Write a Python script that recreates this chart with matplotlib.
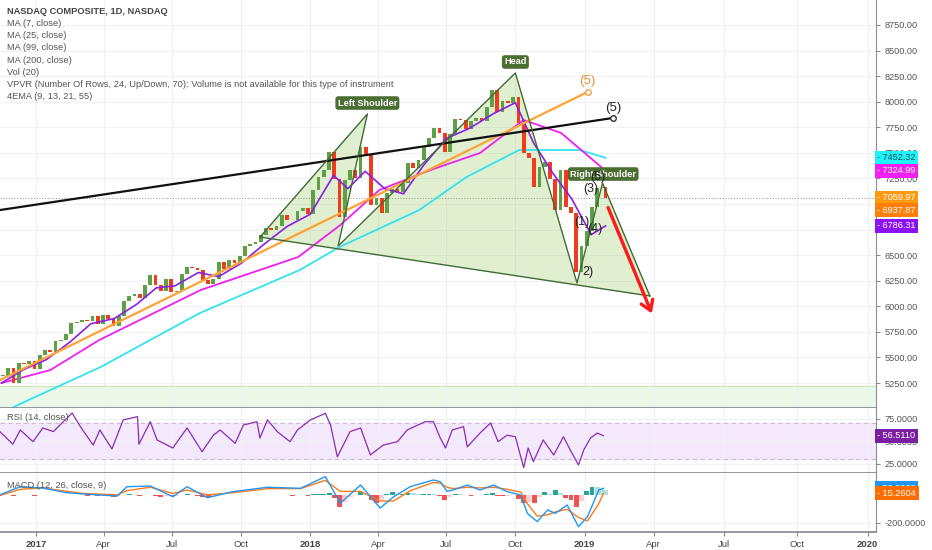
import matplotlib
matplotlib.use('Agg')
import matplotlib.pyplot as plt
import matplotlib.dates as mdates
from matplotlib.patches import Polygon
import pandas as pd

plt.rcParams['font.family'] = ['Liberation Sans', 'DejaVu Sans']

# weekly closes (Fridays from 2016-11-18, last bar 2019-01-29)
closes = [5321, 5398, 5255, 5444, 5437, 5462, 5383,
          5521, 5574, 5555, 5661, 5667, 5734, 5838, 5845, 5870, 5861, 5901, 5828, 5912,
          5878, 5805, 5910, 6047, 6100, 6121, 6083, 6210, 6305, 6208, 6151, 6265, 6140,
          6153, 6312, 6387, 6374, 6352, 6256, 6216, 6265, 6435, 6360, 6448, 6426, 6496,
          6590, 6605, 6629, 6701, 6764, 6750, 6783, 6889, 6848, 6840, 6936, 6959, 6903,
          7136, 7261, 7336, 7505, 7241, 6874, 7239, 7337, 7257, 7560, 7481, 6993, 7063,
          6915, 7107, 7146, 7120, 7209, 7403, 7354, 7434, 7554, 7646, 7746, 7692, 7510,
          7688, 7826, 7820, 7737, 7812, 7839, 7816, 7946, 8110, 7903, 8010, 7987, 8046,
          7788, 7497, 7449, 7167, 7357, 7407, 7248, 6939, 7330, 6969, 6911, 6333, 6585,
          6739, 6971, 7157, 7165, 7060]

macd_hist = [4, 6, -3, 5, 6, 3, -3,
             3, 5, 2, 4, 3, 5, 6, 4, 2, -2, 1, -5, -3,
             -4, -8, -3, 6, 8, 6, -3, 3, 5, -5, -8, -2, -6,
             -4, 5, 8, 5, -2, -8, -10, -5, 5, 3, 6, 3, 5,
             6, 5, 4, 5, 5, 3, 2, 5, 2, -2, 3, 4, -1,
             8, 12, 14, 16, -20, -84, -50, -10, 5, 22, 12, -35, -55,
             -30, 10, 25, 8, 10, 20, 15, 10, 12, 14, 10, -5, -30,
             -10, 12, 10, 2, -4, 6, 2, 10, 18, -5, -6, -2, 3,
             -25, -55, -50, -55, -10, 28, 10, 40, 20, -15, -30, -81, -40,
             30, 64, 60, 45, 38]

ma25_dates = ['2016-11-16', '2016-12-15', '2017-01-15', '2017-02-15', '2017-03-15', '2017-04-15',
              '2017-05-15', '2017-06-10', '2017-07-05', '2017-08-05', '2017-09-01', '2017-10-01',
              '2017-11-01', '2017-12-01', '2018-01-01', '2018-02-01', '2018-02-20', '2018-03-15',
              '2018-04-10', '2018-05-05', '2018-06-01', '2018-07-01', '2018-08-01', '2018-09-01',
              '2018-10-01', '2018-10-25', '2018-11-20', '2018-12-15', '2019-01-10', '2019-01-29']
ma25_vals = [5250, 5380, 5480, 5650, 5830, 5880, 6020, 6180, 6200, 6330, 6290, 6420,
             6610, 6780, 6900, 7280, 7150, 7320, 7150, 7100, 7380, 7640, 7740, 7880,
             7990, 7600, 7300, 7050, 6700, 6786]

ma99_dates = ['2016-11-16', '2017-01-20', '2017-03-26', '2017-08-08', '2017-12-16', '2018-02-10',
              '2018-04-03', '2018-06-10', '2018-08-15', '2018-10-12', '2018-12-01', '2019-01-29']
ma99_vals = [5250, 5377, 5670, 6159, 6482, 6795, 7137, 7332, 7499, 7821, 7694, 7325]

ma200_dates = ['2016-11-25', '2016-12-22', '2017-03-28', '2017-08-07', '2017-12-18', '2018-02-09',
               '2018-05-26', '2018-07-28', '2018-10-06', '2018-12-25', '2019-01-29']
ma200_vals = [4990, 5084, 5407, 5934, 6355, 6580, 6941, 7264, 7528, 7528, 7452]

rsi_dates = ['2016-11-14', '2016-12-01', '2016-12-11', '2016-12-28', '2017-01-10', '2017-01-24',
             '2017-02-18', '2017-03-01', '2017-03-18', '2017-03-27', '2017-04-12', '2017-04-27',
             '2017-05-16', '2017-05-18', '2017-06-02', '2017-06-11', '2017-07-02', '2017-07-21',
             '2017-08-10', '2017-08-25', '2017-09-03', '2017-09-23', '2017-10-04', '2017-10-22',
             '2017-10-26', '2017-11-05', '2017-11-18', '2017-12-05', '2017-12-15', '2018-01-01',
             '2018-01-21', '2018-01-28', '2018-02-06', '2018-02-23', '2018-03-09', '2018-03-22',
             '2018-04-08', '2018-04-27', '2018-05-10', '2018-06-03', '2018-06-14', '2018-06-23',
             '2018-06-30', '2018-07-09', '2018-07-24', '2018-07-29', '2018-08-15', '2018-08-29',
             '2018-09-08', '2018-09-20', '2018-10-01', '2018-10-12', '2018-10-18', '2018-10-25',
             '2018-11-07', '2018-11-21', '2018-12-04', '2018-12-13', '2018-12-24', '2018-12-31',
             '2019-01-09', '2019-01-18', '2019-01-26']
rsi_vals = [60.9, 47.0, 62.8, 49.8, 65.0, 61.0, 81.6, 66.5, 46.0, 62.8, 41.7, 74.0,
            77.6, 47.0, 72.0, 51.7, 42.8, 65.0, 38.7, 57.0, 62.8, 48.0, 68.3, 72.0,
            53.9, 74.0, 61.0, 49.8, 62.8, 73.9, 81.3, 68.3, 33.0, 61.0, 65.0, 35.0,
            46.0, 49.8, 62.8, 72.0, 72.0, 53.9, 42.8, 62.8, 66.5, 44.0, 59.4, 70.6,
            49.8, 57.0, 55.3, 21.0, 42.8, 27.6, 51.7, 35.0, 55.3, 40.6, 23.9, 40.6,
            53.9, 59.4, 56.5]

macd_dates = ['2016-11-14', '2016-12-11', '2017-01-10', '2017-02-11', '2017-03-05', '2017-04-19',
              '2017-05-02', '2017-06-02', '2017-07-02', '2017-07-21', '2017-08-17', '2017-09-20',
              '2017-11-05', '2017-12-19', '2018-01-21', '2018-02-10', '2018-03-09', '2018-04-04',
              '2018-04-22', '2018-05-14', '2018-06-14', '2018-06-23', '2018-07-02', '2018-07-10',
              '2018-07-29', '2018-08-15', '2018-09-02', '2018-09-20', '2018-10-08', '2018-10-17',
              '2018-10-30', '2018-11-13', '2018-11-23', '2018-12-09', '2018-12-24', '2019-01-05',
              '2019-01-20', '2019-01-26']
macd_line = [5, 64, 54, 20, 11, -4, 64, 69, -9, 64, -16, 28,
             60, 52, 137, -55, 76, -91, -9, 64, 113, 100, 30, 40,
             76, 40, 76, 28, 4, -130, -190, -105, -130, -69, -227, -154,
             40, 52.8]
macd_signal = [0, 45, 55, 30, 15, 5, 35, 60, 15, 40, 5, 20,
               50, 50, 110, 30, 30, -40, -40, 35, 95, 90, 60, 50,
               60, 55, 60, 45, 25, -60, -150, -140, -120, -100, -160, -185,
               -60, 15.26]

x_tick_dates = ['2017-01-01', '2017-04-01', '2017-07-01', '2017-10-01', '2018-01-01', '2018-04-01',
                '2018-07-01', '2018-10-01', '2019-01-01', '2019-04-03', '2019-07-06', '2019-10-11',
                '2020-01-13']
x_tick_labels = ['2017', 'Apr', 'Jul', 'Oct', '2018', 'Apr', 'Jul', 'Oct', '2019', 'Apr', 'Jul', 'Oct', '2020']

legend_lines = ['MA (7, close)', 'MA (25, close)', 'MA (99, close)', 'MA (200, close)', 'Vol (20)',
                'VPVR (Number Of Rows, 24, Up/Down, 70): Volume is not available for this type of instrument',
                '4EMA (9, 13, 21, 55)']

# head & shoulders pattern points (date, price)
hs_dates = ['2017-10-26', '2018-03-18', '2018-02-07', '2018-10-01', '2018-12-22', '2019-01-25', '2019-03-29']
hs_prices = [6677, 7880, 6589, 8281, 6228, 7205, 6101]


def d(s):
    return mdates.date2num(pd.Timestamp(s))


W, H = 932, 550
fig = plt.figure(figsize=(W / 100, H / 100), dpi=100)
fig.patch.set_facecolor('white')


def pane(top, bottom):
    return fig.add_axes([0, 1 - bottom / H, 876 / W, (bottom - top) / H])


ax = pane(0, 408)
ax_rsi = pane(408, 473)
ax_macd = pane(473, 532)

xmin, xmax = d('2016-11-14'), d('2020-01-24')
xt = [d(s) for s in x_tick_dates]
for a in (ax, ax_rsi, ax_macd):
    a.set_xlim(xmin, xmax)
    a.set_xticks(xt)
    a.grid(True, color='#eff1f5', lw=0.8)
    a.set_axisbelow(True)
    for s in ('top', 'left'):
        a.spines[s].set_visible(False)
    a.spines['right'].set_color('#8a8d96')
    a.spines['bottom'].set_color('#8a8d96')
    a.spines['bottom'].set_linewidth(1.3)
    a.yaxis.tick_right()
    a.tick_params(axis='y', labelsize=6.6, colors='#8a8d96', labelcolor='#555555', length=3, pad=3)
    a.tick_params(axis='x', length=3, colors='#8a8d96')
ax.tick_params(axis='x', labelbottom=False, length=0)
ax_rsi.tick_params(axis='x', labelbottom=False, length=0)
ax_macd.set_xticklabels(x_tick_labels)
ax_macd.tick_params(axis='x', labelsize=6.8, labelcolor='#444444', pad=3)
for lab in ax_macd.get_xticklabels():
    if lab.get_text().isdigit():
        lab.set_fontweight('bold')

# ---- main price pane
ax.set_ylim(5006, 8994)
ax.set_yticks(range(5250, 8751, 250))
ax.yaxis.set_major_formatter(plt.FormatStrFormatter('%.2f'))

ax.axhspan(5006, 5221, color='#ebf8e8', zorder=0.5)
ax.axhline(5221, color='#d3e7c2', lw=1, zorder=0.6)
ax.axhline(7059.97, color='#a0a0a0', lw=0.8, ls=(0, (1, 1.5)), zorder=1)

hx = [d(s) for s in hs_dates]
poly = Polygon(list(zip(hx, hs_prices)), closed=True, fc='#8bc34a', alpha=0.25, ec='none', zorder=1)
ax.add_patch(poly)
ax.plot(hx, hs_prices, color='#3f6b34', lw=1, zorder=4)
ax.plot([hx[0], hx[-1]], [hs_prices[0], hs_prices[-1]], color='#3f6b34', lw=1, zorder=4)

wd = list(pd.date_range('2016-11-18', '2019-01-25', freq='W-FRI')) + [pd.Timestamp('2019-01-29')]
wx = mdates.date2num(wd)
opens = [closes[0]] + closes[:-1]
for x, o, c in zip(wx, opens, closes):
    col = '#5f9f45' if c >= o else '#f03c1c'
    ax.bar(x, max(abs(c - o), 8), bottom=min(o, c), width=5.0, color=col, zorder=2.5, lw=0)

ax.plot([d(s) for s in ma200_dates], ma200_vals, color='#33e3ef', lw=1.3, zorder=2)
ax.plot([d(s) for s in ma99_dates], ma99_vals, color='#f01ff0', lw=1.3, zorder=2)
ax.plot([d(s) for s in ma25_dates], ma25_vals, color='#8a1fe6', lw=1.2, zorder=3)

# trend lines
ax.plot([d('2016-11-14'), d('2019-01-05')], [5279, 8095], color='#ffa233', lw=1.6, zorder=3)
ax.plot([d('2019-01-05')], [8095], 'o', ms=4, mfc='white', mec='#f0a040', mew=1, zorder=5)
ax.plot([d('2016-11-14'), d('2019-02-08')], [6941, 7841], color='#111111', lw=1.6, zorder=3)
ax.plot([d('2019-02-08')], [7841], 'o', ms=4, mfc='white', mec='#333333', mew=1, zorder=5)
ax.text(d('2019-01-05'), 8203, '(5)', color='#e69138', fontsize=9.5, ha='center', va='center', zorder=6)
ax.text(d('2019-02-08'), 7939, '(5)', color='#222222', fontsize=9.5, ha='center', va='center', zorder=6)

ax.annotate('', xy=(d('2019-04-02'), 5905), xytext=(d('2019-01-31'), 6990),
            arrowprops=dict(arrowstyle='->,head_length=0.7,head_width=0.45', color='#ff1a1a', lw=2.4),
            zorder=6)

box = dict(boxstyle='round,pad=0.25,rounding_size=0.3', fc='#4b6e32', ec='none')
for txt, dt, pr in [('Left Shoulder', '2018-03-18', 7987), ('Head', '2018-10-01', 8388),
                    ('Right Shoulder', '2019-01-26', 7293)]:
    ax.text(d(dt), pr, txt, color='white', fontsize=6.6, fontweight='bold', ha='center', va='center',
            bbox=box, zorder=7)

for txt, dt, pr in [('(3)', '2019-01-09', 7147), ('(5)', '2019-01-19', 7264), ('(1)', '2018-12-29', 6824),
                    ('(4)', '2019-01-15', 6756), ('2)', '2019-01-06', 6335)]:
    ax.text(d(dt), pr, txt, color='#222222', fontsize=9, ha='center', va='center', zorder=8)

fig.text(7 / W, 1 - 11 / H, 'NASDAQ COMPOSITE, 1D, NASDAQ', fontsize=6.7, fontweight='bold',
         color='#444444', va='center')
for i, line in enumerate(legend_lines):
    fig.text(7 / W, 1 - (23.5 + 12.2 * i) / H, line, fontsize=6.7, color='#555555', va='center')


def price_tag(a, value, text, fc, tc='white', z=10):
    a.annotate('- ' + text, xy=(1.0, value), xycoords=a.get_yaxis_transform(),
               xytext=(1, 0), textcoords='offset points', ha='left', va='center',
               fontsize=6.6, color=tc, annotation_clip=False, zorder=z,
               bbox=dict(boxstyle='square,pad=0.28', fc=fc, ec='none'))


price_tag(ax, 7452.32, '7452.32', '#1ff4fa', '#1b4f55')
price_tag(ax, 7324.99, '7324.99', '#f21ff2')
price_tag(ax, 6990, '6990.00', '#ffee33', '#ffee33', z=9)
price_tag(ax, 7059.97, '7059.97', '#ff9a10')
price_tag(ax, 6937.87, '6937.87', '#ff7f0a')
price_tag(ax, 6786.31, '6786.31', '#8a12f5')

# ---- RSI pane
ax_rsi.set_ylim(15, 87.2)
ax_rsi.set_yticks([25, 50, 75])
ax_rsi.yaxis.set_major_formatter(plt.FormatStrFormatter('%.4f'))
ax_rsi.axhspan(30, 70, color='#f4e9fc', zorder=0.4)
ax_rsi.axhline(70, color='#c9bcd6', lw=0.8, ls=(0, (4, 3)))
ax_rsi.axhline(30, color='#c9bcd6', lw=0.8, ls=(0, (4, 3)))
ax_rsi.plot([d(s) for s in rsi_dates], rsi_vals, color='#8e2ab5', lw=0.9, zorder=3)
ax_rsi.text(7 / 876, 1 - 10 / 65, 'RSI (14, close)', transform=ax_rsi.transAxes, fontsize=6.7,
            color='#555555', va='center')
price_tag(ax_rsi, 56.511, '56.5110', '#7b1fa2')

# ---- MACD pane
ax_macd.set_ylim(-265.5, 163.6)
ax_macd.set_yticks([-200])
ax_macd.yaxis.set_major_formatter(plt.FormatStrFormatter('%.4f'))
prev = 0
for x, v in zip(wx, macd_hist):
    if v >= 0:
        col = '#26a69a' if v >= prev else '#b2dfdb'
    else:
        col = '#ef5350' if v <= prev else '#ffcdd2'
    ax_macd.bar(x, v, width=6.5, color=col, lw=0, zorder=2)
    prev = v
mx = [d(s) for s in macd_dates]
ax_macd.plot(mx, macd_signal, color='#ff7a1a', lw=1.0, zorder=3)
ax_macd.plot(mx, macd_line, color='#2196f3', lw=1.0, zorder=3)
ax_macd.text(7 / 876, 1 - 13 / 59, 'MACD (12, 26, close, 9)', transform=ax_macd.transAxes, fontsize=6.7,
             color='#555555', va='center')
price_tag(ax_macd, 52.8028, '52.8028', '#2196f3')
price_tag(ax_macd, 15.2604, '15.2604', '#ff6d00')

fig.savefig('out.png', dpi=100)
